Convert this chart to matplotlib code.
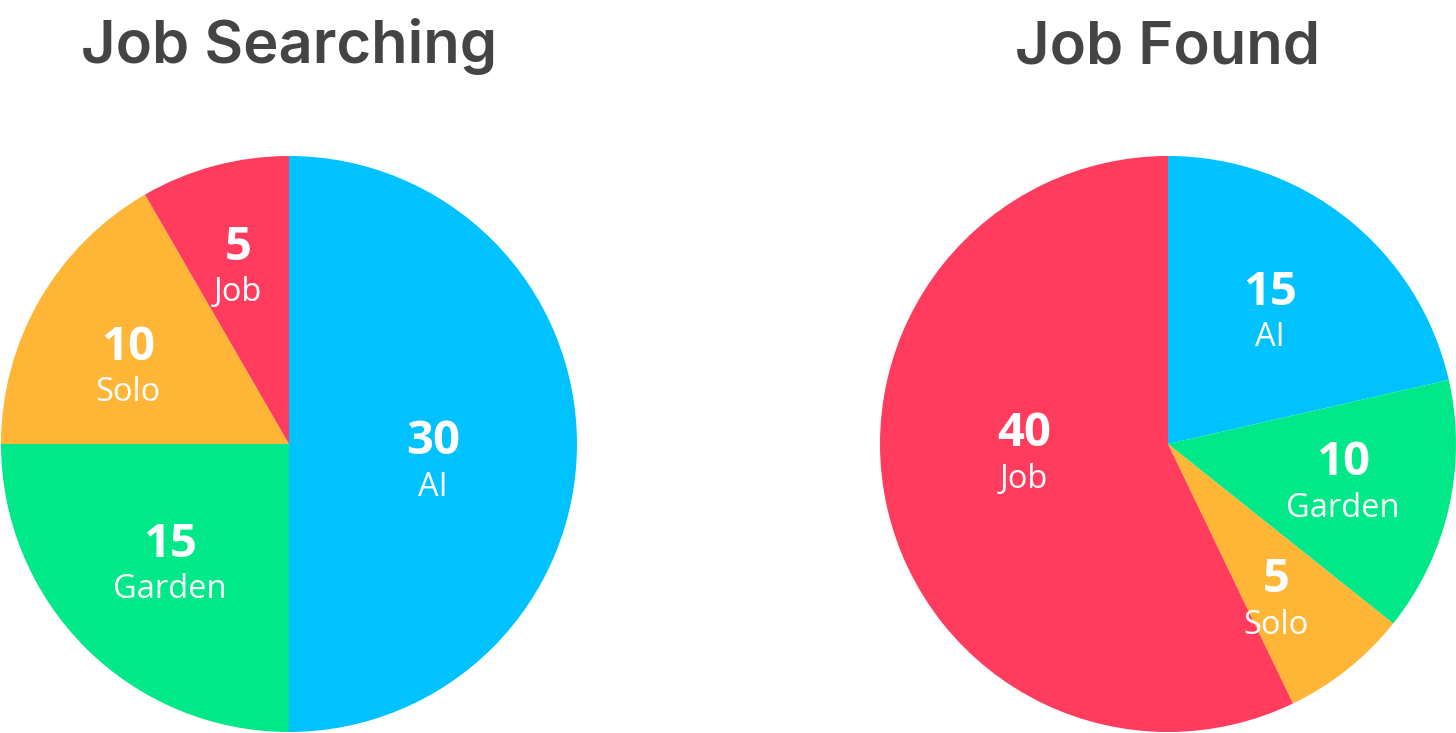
import numpy as np
import matplotlib.pyplot as plt

CATEGORIES = ['AI', 'Garden', 'Solo', 'Job']
SEARCHING = [30, 15, 10, 5]
FOUND = [15, 10, 5, 40]
TITLES = ['Job Searching', 'Job Found']

COLORS = {'AI': '#00C2FF', 'Garden': '#00E887', 'Solo': '#FFB535', 'Job': '#FF3C5E'}

W, H = 1456, 733
fig = plt.figure(figsize=(W / 100, H / 100), dpi=100)


def draw_pie(cx, values, title, label_pos):
    # label_pos: (radius fraction, angle offset from wedge middle in degrees)
    r = 288
    ax = fig.add_axes([(cx - r) / W, (H - 444 - r) / H, 2 * r / W, 2 * r / H])
    wedges, _ = ax.pie(values, colors=[COLORS[c] for c in CATEGORIES],
                       startangle=90, counterclock=False, radius=1,
                       wedgeprops=dict(linewidth=0))
    ax.set_xlim(-1, 1)
    ax.set_ylim(-1, 1)
    ax.set_aspect('equal')
    ax.axis('off')

    for w, v, name, (lr, off) in zip(wedges, values, CATEGORIES, label_pos):
        mid = np.deg2rad((w.theta1 + w.theta2) / 2 + off)
        x, y = lr * np.cos(mid), lr * np.sin(mid)
        ax.annotate(str(v), (x, y), xytext=(0, 4), textcoords='offset points',
                    ha='center', va='baseline', color='white', fontsize=34,
                    fontweight='bold', family='Open Sans')
        ax.annotate(name, (x, y), xytext=(0, -26), textcoords='offset points',
                    ha='center', va='baseline', color='white', fontsize=23.5,
                    family='Open Sans')

    fig.text(cx / W, 1 - 63 / H, title, ha='center', va='baseline',
             fontsize=43, fontweight='semibold', family='Inter', color='#444444')


draw_pie(289, SEARCHING, TITLES[0],
         [(0.503, -6.3), (0.582, -0.2), (0.622, 3.9), (0.646, 0.9)])
draw_pie(1168, FOUND, TITLES[1],
         [(0.583, 1.3), (0.621, 1.0), (0.653, -3.5), (0.5, -9.7)])

fig.savefig('out.png', dpi=100)
